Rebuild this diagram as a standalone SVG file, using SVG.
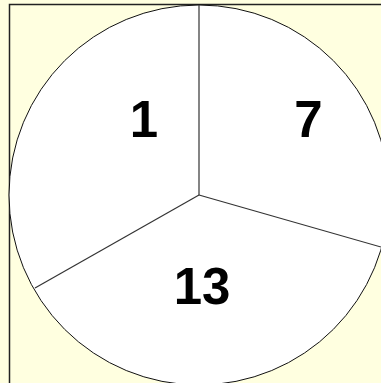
<svg xmlns="http://www.w3.org/2000/svg" width="381" height="383" viewBox="0 0 381 383">
<style>
.lbl{font-family:"Liberation Sans",Arial,sans-serif;font-weight:bold;font-size:51px;fill:#000;text-anchor:middle}
.div{stroke:#333;stroke-width:1.2;fill:none}
</style>
<rect x="0" y="0" width="381" height="383" fill="#FFFFE0"/>
<path d="M9.5,383 V4.5 H381" fill="none" stroke="#222" stroke-width="1.5"/>
<g id="pie">
<circle cx="199" cy="195" r="190" fill="#fff" stroke="#111" stroke-width="1"/>
</g>
<g id="connectors">
<line class="div" x1="199" y1="195" x2="199" y2="5"/>
<line class="div" x1="199" y1="195" x2="381" y2="247"/>
<line class="div" x1="199" y1="195" x2="35" y2="288"/>
</g>
<g id="slice1"><text class="lbl" x="144" y="137">1</text></g>
<g id="slice7"><text class="lbl" x="308.5" y="137">7</text></g>
<g id="slice13"><text class="lbl" x="202" y="304">13</text></g>
</svg>
